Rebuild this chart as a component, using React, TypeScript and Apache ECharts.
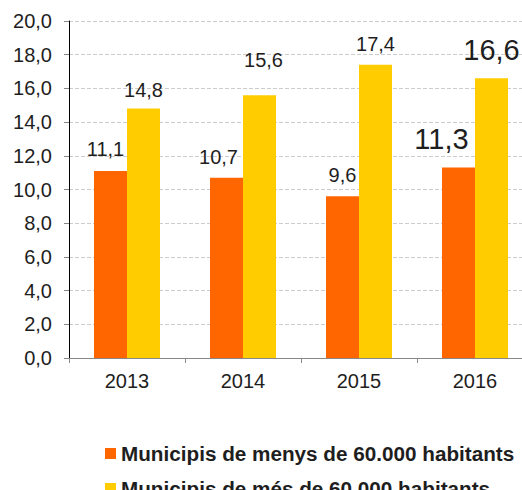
import React, { useEffect, useRef } from "react";
import * as echarts from "echarts";

const categories = ["2013", "2014", "2015", "2016"];
const menys = [11.1, 10.7, 9.6, 11.3];
const mes = [14.8, 15.6, 17.4, 16.6];
const seriesNames = [
  "Municipis de menys de 60.000 habitants",
  "Municipis de més de 60.000 habitants",
];
const colors = ["#FF6600", "#FFCC00"];
// label placement tweaks (styling only)
const menysLabelOffsets = [[-5, -1], [-8, 0], [0, 0], [-17, 0]];
const mesLabelOffsets = [[0, 2], [4, -14], [0, 0], [0, 0]];

const fmt = (v: number) => v.toFixed(1).replace(".", ",");

function buildData(values: number[], offsets: number[][]) {
  return values.map((v, i) =>
    i === values.length - 1
      ? { value: v, label: { fontSize: 29, offset: offsets[i], distance: 14 } }
      : { value: v, label: { offset: offsets[i] } }
  );
}

export default function App() {
  const ref = useRef<HTMLDivElement>(null);
  useEffect(() => {
    if (!ref.current) return;
    const chart = echarts.init(ref.current, undefined, { renderer: "svg" });
    const font = "Liberation Sans, Arial, sans-serif";
    const labelCfg = {
      show: true,
      position: "top" as const,
      distance: 11,
      color: "#1e1e1e",
      fontSize: 20,
      fontFamily: font,
      formatter: (p: any) => fmt(p.value),
    };
    const legendText = {
      fontSize: 20.7,
      fontWeight: "bold",
      color: "#1e1e1e",
      fontFamily: font,
    };
    chart.setOption({
      animation: false,
      backgroundColor: "#fff",
      grid: { left: 69, right: 1, top: 21, bottom: 132, containLabel: false },
      legend: [
        {
          left: 100,
          top: 438,
          itemWidth: 11,
          itemHeight: 11,
          icon: "rect",
          textStyle: legendText,
          data: [seriesNames[0]],
        },
        {
          left: 100,
          top: 473,
          itemWidth: 11,
          itemHeight: 11,
          icon: "rect",
          textStyle: legendText,
          data: [seriesNames[1]],
        },
      ],
      xAxis: {
        type: "category",
        data: categories,
        axisLine: { lineStyle: { color: "#888" } },
        axisTick: { show: true, length: 5, lineStyle: { color: "#888" } },
        axisLabel: { fontSize: 20, color: "#1e1e1e", fontFamily: font, margin: 13 },
      },
      yAxis: {
        type: "value",
        min: 0,
        max: 20,
        interval: 2,
        axisLine: { show: true, lineStyle: { color: "#000" } },
        axisTick: { show: true, length: 5, lineStyle: { color: "#888" } },
        axisLabel: {
          fontSize: 20,
          color: "#1e1e1e",
          fontFamily: font,
          margin: 17,
          formatter: (v: number) => fmt(v),
        },
        splitLine: { lineStyle: { color: "#ccc", type: "dashed" } },
      },
      series: [
        {
          name: seriesNames[0],
          type: "bar",
          data: buildData(menys, menysLabelOffsets),
          barWidth: 33,
          barGap: "0%",
          itemStyle: { color: colors[0] },
          label: labelCfg,
        },
        {
          name: seriesNames[1],
          type: "bar",
          data: buildData(mes, mesLabelOffsets),
          barWidth: 33,
          barGap: "0%",
          itemStyle: { color: colors[1] },
          label: labelCfg,
        },
      ],
    });
    return () => chart.dispose();
  }, []);
  return (
    <div
      ref={ref}
      style={{ position: "fixed", left: 0, top: 0, width: 534, height: 490 }}
    />
  );
}
